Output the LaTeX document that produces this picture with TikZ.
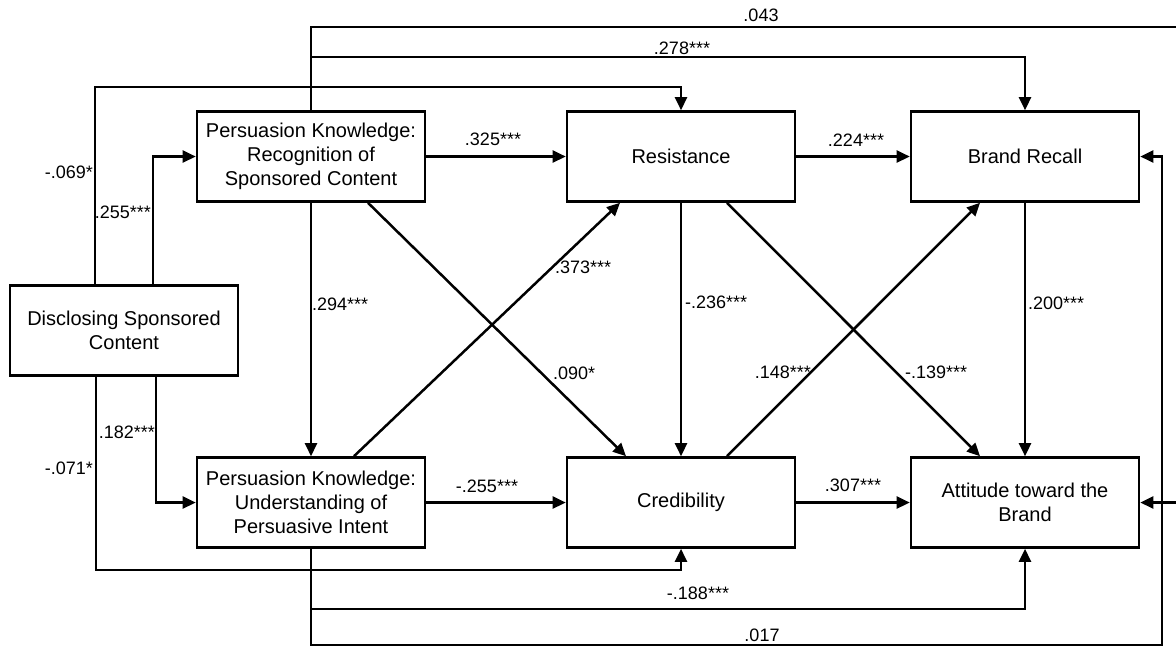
\documentclass[tikz,border=0pt]{standalone}
\usepackage{fontspec}
\setmainfont{Liberation Sans}
\usetikzlibrary{arrows.meta}
\begin{document}
\begin{tikzpicture}[x=1pt,y=-1pt,
  box/.style={draw,line width=2.6pt,minimum width=228pt,minimum height=90pt,inner sep=0pt,align=center,font=\fontsize{20}{24}\selectfont},
  arr/.style={line width=2.5pt,-{Triangle[length=13pt,width=12pt]}},
  lbl/.style={inner sep=0pt,font=\fontsize{18}{20}\selectfont}]
\useasboundingbox (0,0) rectangle (1176,649);
\clip (0,0) rectangle (1176,649);
\fill[white] (0,0) rectangle (1176,649);
% nodes
\node[box] (dsc) at (124,330.5) {Disclosing Sponsored\\Content};
\node[box] (pkr) at (311,156.5) {Persuasion Knowledge:\\Recognition of\\Sponsored Content};
\node[box] (res) at (681,156.5) {Resistance};
\node[box] (br) at (1025,156.5) {Brand Recall};
\node[box] (pku) at (311,502.5) {Persuasion Knowledge:\\Understanding of\\Persuasive Intent};
\node[box] (cred) at (681,502.5) {Credibility};
\node[box] (att) at (1025,502.5) {Attitude toward the\\Brand};
% routing corners
\coordinate (rtop) at (1190,27);
\coordinate (rbot) at (1162,645);
% connectors
\draw[arr] ([xshift=29pt]dsc.north) |- (pkr.west);
\draw[arr] ([xshift=-29pt]dsc.north) |- ([yshift=23pt]res.north) -- (res.north);
\draw[arr] ([xshift=32pt]dsc.south) |- (pku.west);
\draw[arr] ([xshift=-28pt]dsc.south) |- ([yshift=-21pt]cred.south) -- (cred.south);
\draw[arr] (pkr) -- (res);
\draw[arr] (res) -- (br);
\draw[arr] (pku) -- (cred);
\draw[arr] (cred) -- (att);
\draw[arr] (pkr) -- (pku);
\draw[arr] (res) -- (cred);
\draw[arr] (br) -- (att);
\draw[arr] ([xshift=43pt]pku.north) -- ([xshift=-61pt]res.south);
\draw[arr] ([xshift=57pt]pkr.south) -- ([xshift=-55pt]cred.north);
\draw[arr] ([xshift=46pt]cred.north) -- ([xshift=-45pt]br.south);
\draw[arr] ([xshift=46pt]res.south) -- ([xshift=-45pt]att.north);
\draw[arr] (pkr.north) |- (rtop) |- (att.east);
\draw[arr] (pkr.north) |- ([yshift=53pt]br.north) -- (br.north);
\draw[arr] (pku.south) |- ([yshift=-60pt]att.south) -- (att.south);
\draw[arr] (pku.south) |- (rbot) |- (br.east);
% labels
\node[lbl,anchor=east] (l255) at (151,212) {.255***};
\node[lbl,anchor=east] (l069) at (93,172) {-.069*};
\node[lbl] (l043) at (761,15) {.043};
\node[lbl] (l278) at (682,48) {.278***};
\node[lbl] (l325) at (493,139) {.325***};
\node[lbl] (l224) at (856,140) {.224***};
\node[lbl,anchor=west] (l294) at (312,304) {.294***};
\node[lbl,anchor=west] (l373) at (555,267) {.373***};
\node[lbl,anchor=west] (l090) at (553,373) {.090*};
\node[lbl,anchor=west] (l236) at (685,302) {-.236***};
\node[lbl,anchor=east] (l148) at (811,372) {.148***};
\node[lbl,anchor=west] (l139) at (905,372) {-.139***};
\node[lbl,anchor=west] (l200) at (1028,303) {.200***};
\node[lbl,anchor=east] (l182) at (155,432) {.182***};
\node[lbl,anchor=east] (l071) at (93,468) {-.071*};
\node[lbl] (l255b) at (487,486) {-.255***};
\node[lbl] (l307) at (853,485) {.307***};
\node[lbl] (l188) at (698,593) {-.188***};
\node[lbl] (l017) at (762,635) {.017};
\end{tikzpicture}
\end{document}
